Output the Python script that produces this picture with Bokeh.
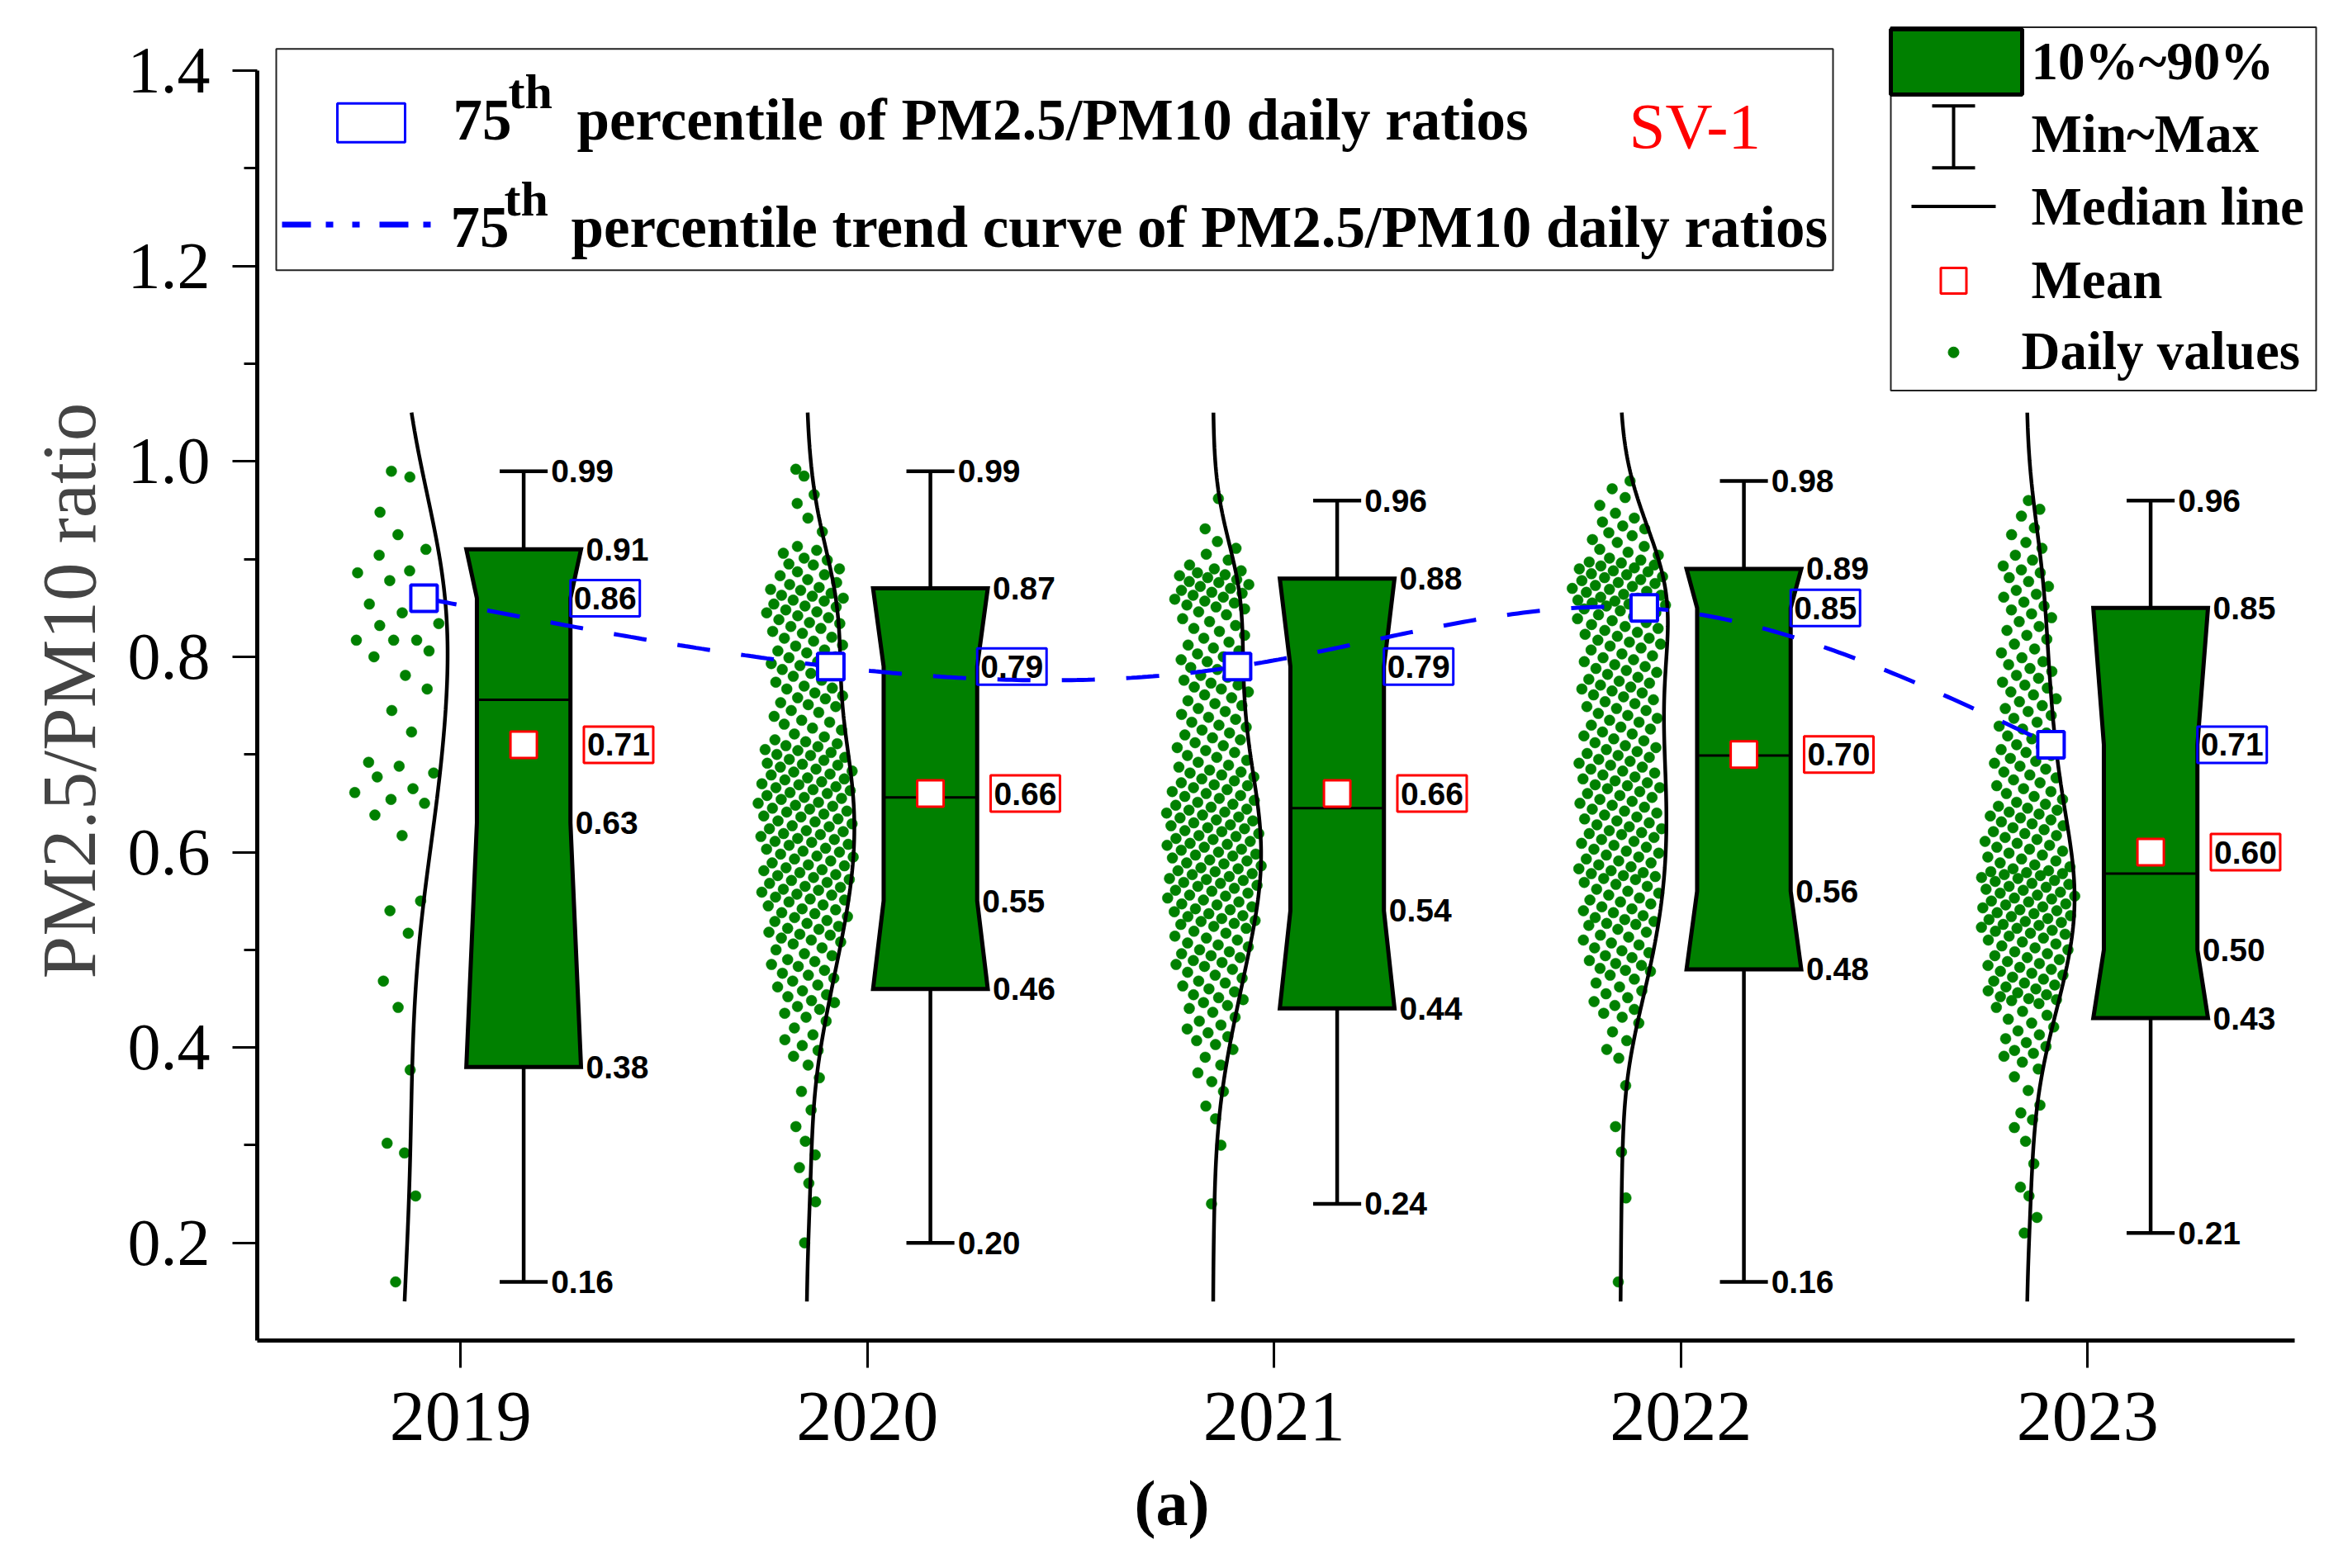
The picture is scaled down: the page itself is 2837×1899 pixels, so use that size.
import numpy as np
from bokeh.plotting import figure
from bokeh.models import FixedTicker, Range1d, Title, PrintfTickFormatter
from bokeh.core.properties import value
from bokeh.embed import file_html
from bokeh.resources import INLINE

# ---------------- data ----------------
YEARS = [2019, 2020, 2021, 2022, 2023]
P_MIN = [0.16, 0.20, 0.24, 0.16, 0.21]
P10 = [0.38, 0.46, 0.44, 0.48, 0.43]
P25 = [0.63, 0.55, 0.54, 0.56, 0.50]
MEDIAN = [0.756, 0.656, 0.645, 0.699, 0.578]
P75 = [0.86, 0.79, 0.79, 0.85, 0.71]
P90 = [0.91, 0.87, 0.88, 0.89, 0.85]
P_MAX = [0.99, 0.99, 0.96, 0.98, 0.96]
MEAN = [0.71, 0.66, 0.66, 0.70, 0.60]

# daily PM2.5/PM10 ratios (x1000), estimated from the dot clouds
D2019 = ("990 984 948 925 910 904 888 886 878 868 854 845 834 832 817 817 817 806 800 781 767 745 723 "
         "692 688 681 677 665 661 654 650 638 617 550 540 517 468 441 377 302 292 248 160")
D2020 = ("992 985 966 957 942 928 913 "
         "909 906 901 899 895 894 890 887 884 883 879 876 874 871 "
         "869 868 865 863 862 860 858 857 854 852 851 848 846 845 842 840 838 835 834 831 "
         "829 826 824 820 819 816 812 811 807 806 804 800 799 795 793 791 "
         "788 787 783 781 780 776 774 770 768 767 763 760 758 757 753 751 "
         "749 745 743 739 735 733 731 727 725 721 718 715 713 711 "
         "709 708 705 704 702 700 699 697 695 694 691 690 689 687 685 683 682 680 679 676 675 674 672 670 "
         "669 667 666 664 663 661 660 658 656 655 654 651 650 648 647 645 644 642 641 639 637 636 634 632 631 "
         "629 627 626 624 622 621 619 618 616 614 613 611 610 608 607 604 603 601 600 598 596 595 593 591 "
         "589 587 586 584 582 581 579 577 576 574 572 571 569 568 565 564 562 561 559 557 556 554 552 551 "
         "549 546 545 542 541 538 537 534 533 530 529 527 524 522 521 518 516 515 512 510 "
         "508 506 502 500 496 494 490 488 485 483 479 476 474 471 "
         "468 464 462 458 454 452 448 446 442 439 435 431 "
         "427 420 413 408 402 397 391 382 369 355 336 319 304 290 277 261 242 200")
D2021 = ("962 931 918 911 905 899 894 890 "
         "888 886 884 883 881 879 877 876 874 872 870 868 866 865 863 861 859 857 855 853 851 849 "
         "846 843 839 836 832 829 826 822 819 815 812 809 "
         "806 803 800 797 795 792 789 787 784 781 779 776 773 771 769 767 "
         "764 761 758 755 752 750 747 744 741 738 736 733 730 728 "
         "725 722 720 717 715 712 709 707 704 702 699 697 694 692 689 687 "
         "684 682 681 679 677 675 673 671 669 668 666 664 662 660 658 657 655 653 651 649 648 646 "
         "644 643 641 640 638 636 635 633 632 630 628 627 625 624 622 621 619 617 616 614 613 611 609 608 607 605 "
         "603 602 600 598 597 596 594 592 591 589 588 586 584 583 581 580 578 577 575 573 572 571 569 568 566 565 "
         "563 561 560 558 556 555 553 551 549 547 546 544 542 541 539 537 535 534 532 530 529 527 526 524 "
         "522 519 517 514 512 510 507 505 503 500 498 496 494 492 489 487 485 483 "
         "480 477 474 471 468 466 463 460 457 454 451 449 446 443 "
         "440 436 431 427 423 419 415 411 407 403 398 390 382 374 365 355 340 327 300 240")
D2022 = ("980 972 963 955 947 "
         "942 938 934 931 927 924 920 917 913 910 907 904 901 899 "
         "897 896 894 893 891 890 888 887 885 884 882 881 879 878 876 875 873 872 870 869 "
         "867 866 864 863 861 860 858 857 856 855 854 853 852 851 "
         "849 847 845 843 841 839 837 835 833 831 829 827 825 823 821 819 817 815 813 811 809 807 "
         "803 801 799 797 795 792 790 788 786 784 782 779 777 775 773 771 769 767 765 763 761 759 "
         "756 754 752 749 747 745 742 740 737 735 733 730 728 726 723 721 719 716 714 712 "
         "709 707 705 703 701 699 697 695 693 691 689 687 685 683 681 679 677 675 673 671 669 668 666 665 "
         "662 660 658 656 654 652 650 648 646 644 642 640 638 636 634 632 630 628 626 624 622 620 619 618 "
         "615 613 611 609 607 605 603 601 599 597 595 593 591 589 587 585 583 581 579 578 576 575 573 572 "
         "569 567 565 562 560 558 556 553 551 549 547 544 542 540 538 535 533 531 529 527 526 525 "
         "521 518 515 513 510 507 505 502 499 497 494 492 489 486 484 481 479 478 "
         "474 470 466 462 458 455 451 447 443 439 435 431 "
         "425 416 407 398 389 361 319 293 246 160")
D2023 = ("960 951 944 932 925 917 911 904 899 893 889 886 "
         "881 877 872 868 864 861 856 852 848 844 840 836 831 827 822 818 813 808 804 799 "
         "795 792 788 785 781 778 774 771 768 764 761 757 754 750 747 744 740 737 733 729 726 722 "
         "719 716 713 710 708 705 702 699 696 693 691 688 685 682 679 676 674 671 668 665 662 660 657 654 651 "
         "649 647 645 643 641 639 637 635 633 631 629 627 625 623 621 619 617 615 613 611 609 607 605 603 601 "
         "599 597 595 593 591 589 587 585 583 581 580 579 578 577 576 "
         "574 573 571 570 568 567 565 564 562 561 559 558 556 555 553 552 550 549 547 546 544 543 541 540 538 "
         "537 535 534 532 531 529 528 526 525 523 522 520 519 517 516 514 512 510 508 506 "
         "504 502 500 498 496 494 492 490 488 486 484 482 480 478 476 474 472 470 468 466 464 462 460 458 456 "
         "454 452 450 449 448 "
         "445 441 437 433 429 425 421 417 413 409 405 401 397 394 391 "
         "385 378 370 356 341 333 326 318 304 281 257 248 226 210")
DAILY = [D2019, D2020, D2021, D2022, D2023]

Y_TICKS = [0.2, 0.4, 0.6, 0.8, 1.0, 1.2, 1.4]
Y_MINOR = [0.3, 0.5, 0.7, 0.9, 1.1, 1.3]

# ---------------- layout ----------------
FRAME_W, FRAME_H = 2510, 1600
B_LEFT, B_TOP, B_RIGHT, B_BOTTOM = 311, 26, 0, 265
W, H = B_LEFT + FRAME_W + B_RIGHT, B_TOP + FRAME_H + B_BOTTOM
X0, X1 = 2018.5, 2018.5 + FRAME_W / 492.5
Y0, Y1 = 0.1, 1.45
PXX = 492.5              # px per x unit
PXY = FRAME_H / 1.35     # px per y unit
LEFT_PX, BOTTOM_PX = 310, 1626   # reference px of frame left / bottom
TXT = -23                # text baseline correction (px)
LG2 = -7                 # horizontal correction of the right legend (px)


def X(px):
    return X0 + (px - LEFT_PX) / PXX


def Y(py):
    return Y0 + (BOTTOM_PX - py) / PXY


BOX_C, BOX_HW, NOTCH, CAP_HW = 0.155, 0.141, 0.026, 0.059
V_BASE, V_W, JIT = -0.15, 0.118, 0.12
P75_DX = -0.09
GREEN = "#008000"
serif = value("Liberation Serif")
sans = value("Liberation Sans")


def parse(s):
    return np.array([int(t) for t in s.split()], dtype=float) / 1000.0


def gauss_kde(vals, grid, bw):
    d = (np.asarray(grid)[:, None] - vals[None, :]) / bw
    return np.exp(-0.5 * d * d).sum(axis=1)


def jitter(vals):
    n = len(vals)
    order = np.argsort(vals)
    loc = gauss_kde(vals, vals, 0.02)
    w = (loc / loc.max()) ** 0.6 * JIT
    u = ((np.arange(n) * 0.6180339887 + 0.37) % 1.0) * 2 - 1
    offs = np.empty(n)
    offs[order] = u * w[order]
    return offs


def natural_spline(xk, yk, xs):
    xk = np.asarray(xk, float); yk = np.asarray(yk, float)
    n = len(xk); h = np.diff(xk)
    A = np.zeros((n, n)); b = np.zeros(n)
    A[0, 0] = A[-1, -1] = 1
    for i in range(1, n - 1):
        A[i, i - 1] = h[i - 1]; A[i, i] = 2 * (h[i - 1] + h[i]); A[i, i + 1] = h[i]
        b[i] = 6 * ((yk[i + 1] - yk[i]) / h[i] - (yk[i] - yk[i - 1]) / h[i - 1])
    M = np.linalg.solve(A, b)
    out = []
    for x in xs:
        i = min(max(np.searchsorted(xk, x) - 1, 0), n - 2)
        hi = h[i]; a = xk[i + 1] - x; c = x - xk[i]
        out.append(M[i] * a ** 3 / (6 * hi) + M[i + 1] * c ** 3 / (6 * hi)
                   + (yk[i] / hi - M[i] * hi / 6) * a + (yk[i + 1] / hi - M[i + 1] * hi / 6) * c)
    return np.array(out)


p = figure(width=W, height=H, x_range=Range1d(X0, X1), y_range=Range1d(Y0, Y1),
           output_backend="svg", toolbar_location=None,
           min_border_left=B_LEFT, min_border_right=B_RIGHT, min_border_top=B_TOP,
           min_border_bottom=B_BOTTOM)
p.grid.visible = False
p.outline_line_color = None
p.background_fill_color = "white"

# axes
p.xaxis.ticker = FixedTicker(ticks=YEARS)
p.xaxis.bounds = (2018.5, 2023.51)
p.xaxis.major_tick_out = 33
p.xaxis.major_tick_in = 0
p.xaxis.minor_tick_line_color = None
p.xaxis.major_label_standoff = 30
p.xaxis.major_label_text_font_size = "86px"
p.yaxis.ticker = FixedTicker(ticks=Y_TICKS, minor_ticks=Y_MINOR)
p.yaxis.bounds = (0.1, 1.4)
p.yaxis.formatter = PrintfTickFormatter(format="%.1f")
p.yaxis.major_tick_out = 30
p.yaxis.major_tick_in = 0
p.yaxis.minor_tick_out = 16
p.yaxis.minor_tick_in = 0
p.yaxis.major_label_standoff = 27
p.yaxis.major_label_text_font_size = "80px"
p.yaxis.axis_label = "PM2.5/PM10 ratio\u00a0"
p.yaxis.axis_label_text_font = "Liberation Serif"
p.yaxis.axis_label_text_font_style = "normal"
p.yaxis.axis_label_text_font_size = "93px"
p.yaxis.axis_label_standoff = 17
for ax in (p.xaxis, p.yaxis):
    ax.axis_line_width = 5
    ax.major_tick_line_width = 3
    ax.minor_tick_line_width = 3
    ax.major_label_text_font = "Liberation Serif"
    ax.major_label_text_color = "black"

grid = np.linspace(0.14, 1.05, 300)
cx = [c + BOX_C for c in YEARS]
L = [c + BOX_C - BOX_HW for c in YEARS]
R = [c + BOX_C + BOX_HW for c in YEARS]

# daily dots and distribution curves
for c, s in zip(YEARS, DAILY):
    vals = parse(s)
    offs = jitter(vals)
    p.scatter(c + V_BASE + offs, vals, size=13, fill_color=GREEN, line_color=GREEN, line_width=0.5)
for c, s in zip(YEARS, DAILY):
    vals = parse(s)
    bw = 1.06 * np.std(vals) * len(vals) ** -0.2
    k = gauss_kde(vals, grid, bw)
    k = k / k.max()
    p.line(c + V_BASE + V_W * k, grid, line_color="black", line_width=4.5)

# whiskers
p.segment(x0=cx, y0=P90, x1=cx, y1=P_MAX, line_color="black", line_width=4.5)
p.segment(x0=cx, y0=P10, x1=cx, y1=P_MIN, line_color="black", line_width=4.5)
p.segment(x0=[x - CAP_HW for x in cx], y0=P_MAX, x1=[x + CAP_HW for x in cx], y1=P_MAX,
          line_color="black", line_width=4.5)
p.segment(x0=[x - CAP_HW for x in cx], y0=P_MIN, x1=[x + CAP_HW for x in cx], y1=P_MIN,
          line_color="black", line_width=4.5)

# notched 10-90% boxes
bxs, bys = [], []
for l, r, a, b, m, d in zip(L, R, P90, P75, P25, P10):
    bxs.append([l, r, r - NOTCH, r - NOTCH, r, l, l + NOTCH, l + NOTCH])
    bys.append([a, a, b, m, d, d, m, b])
p.patches(bxs, bys, fill_color=GREEN, line_color="black", line_width=5, line_join="miter")
p.segment(x0=[l + NOTCH for l in L], y0=MEDIAN, x1=[r - NOTCH for r in R], y1=MEDIAN,
          line_color="black", line_width=3)
p.scatter(cx, MEAN, marker="square", size=32, fill_color="white", line_color="red", line_width=3)

# 75th percentile trend
pxk = [c + P75_DX for c in YEARS]
xs = np.linspace(pxk[0], pxk[-1], 300)
p.line(xs, natural_spline(pxk, P75, xs), line_color="#0000FF", line_width=5, line_dash="40 38")
p.scatter(pxk, P75, marker="square", size=32, fill_color="white", line_color="#0000FF", line_width=4)

# value labels
fmt = lambda v: "%.2f" % v
lab = dict(text_font=sans, text_font_style="bold", text_font_size="39px",
           text_baseline="middle", text_color="black")
p.text([x + CAP_HW for x in cx], P_MAX, [fmt(v) for v in P_MAX], x_offset=4, text_align="left", **lab)
p.text([x + CAP_HW for x in cx], P_MIN, [fmt(v) for v in P_MIN], x_offset=4, text_align="left", **lab)
p.text(R, P90, [fmt(v) for v in P90], x_offset=6, text_align="left", **lab)
p.text(R, P10, [fmt(v) for v in P10], x_offset=6, text_align="left", **lab)
p.text([r - NOTCH for r in R], P25, [fmt(v) for v in P25], x_offset=6, text_align="left", **lab)
bx = [r - NOTCH + 42 / PXX for r in R]
p.rect(bx, P75, width=84, height=44, width_units="screen", height_units="screen",
       fill_color=None, line_color="#0000FF", line_width=3)
p.text(bx, P75, [fmt(v) for v in P75], text_align="center", **lab)
mx = [c + 0.303 + 42 / PXX for c in YEARS]
p.rect(mx, MEAN, width=84, height=44, width_units="screen", height_units="screen",
       fill_color=None, line_color="red", line_width=3)
p.text(mx, MEAN, [fmt(v) for v in MEAN], text_align="center", **lab)

# ---------------- legend 1 ----------------
lg = dict(text_font=serif, text_font_style="bold", text_baseline="alphabetic", text_align="left",
          text_color="black")
p.rect([X((333 + 2218) / 2)], [Y((59 + 327) / 2)], width=2218 - 333, height=327 - 59,
       width_units="screen", height_units="screen", fill_color="white", line_color="#222222", line_width=2)
p.rect([X(448)], [Y(148.5)], width=82, height=47, width_units="screen", height_units="screen",
       fill_color=None, line_color="#0000FF", line_width=3)
p.line([X(340), X(521)], [Y(272), Y(272)], line_color="#0000FF", line_width=7,
       line_dash="35 18 9 23 9 24")
p.text([X(547), X(544)], [Y(168 + TXT), Y(298 + TXT)], ["75", "75"], text_font_size="71px", **lg)
p.text([X(614), X(609)], [Y(134 + TXT), Y(264 + TXT)], ["th", "th"], text_font_size="60px", **lg)
p.text([X(697), X(690)], [Y(168 + TXT), Y(298 + TXT)],
       ["percentile of PM2.5/PM10 daily ratios",
        "percentile trend curve of PM2.5/PM10 daily ratios"], text_font_size="71px", **lg)
p.text([X(1971)], [Y(152)], ["SV-1"], text_font=serif, text_font_size="79px", text_color="red",
       text_baseline="alphabetic", text_align="left")

# ---------------- legend 2 ----------------
p.rect([X((2295 + 2810) / 2 + LG2)], [Y((33 + 473) / 2)], width=2810 - 2295, height=473 - 33,
       width_units="screen", height_units="screen", fill_color="white", line_color="#222222", line_width=2)
p.rect([X((2295 + 2454) / 2 + LG2)], [Y((35 + 114) / 2)], width=159, height=79,
       width_units="screen", height_units="screen", fill_color=GREEN, line_color="black", line_width=5)
p.segment(x0=[X(2371 + LG2), X(2345 + LG2), X(2345 + LG2)], y0=[Y(128), Y(128), Y(203)],
          x1=[X(2371 + LG2), X(2397 + LG2), X(2397 + LG2)], y1=[Y(203), Y(128), Y(203)],
          line_color="black", line_width=4)
p.segment(x0=[X(2320 + LG2)], y0=[Y(250)], x1=[X(2422 + LG2)], y1=[Y(250)], line_color="black", line_width=4)
p.scatter([X(2371 + LG2)], [Y(340)], marker="square", size=31, fill_color="white", line_color="red",
          line_width=3)
p.scatter([X(2371 + LG2)], [Y(427)], size=13, fill_color=GREEN, line_color=GREEN)
p.text([X(2465 + LG2)] * 4 + [X(2453 + LG2)],
       [Y(97 + TXT), Y(185 + TXT), Y(273 + TXT), Y(362 + TXT), Y(448 + TXT)],
       ["10%~90%", "Min~Max", "Median line", "Mean", "Daily values"], text_font_size="65px", **lg)

# ---------------- caption ----------------
p.add_layout(Title(text="(a)", align="left", offset=1062, standoff=56,
                   text_font="Liberation Serif", text_font_style="bold", text_font_size="78px",
                   text_color="black"), "below")

open("out.html", "w").write(file_html(p, INLINE))
